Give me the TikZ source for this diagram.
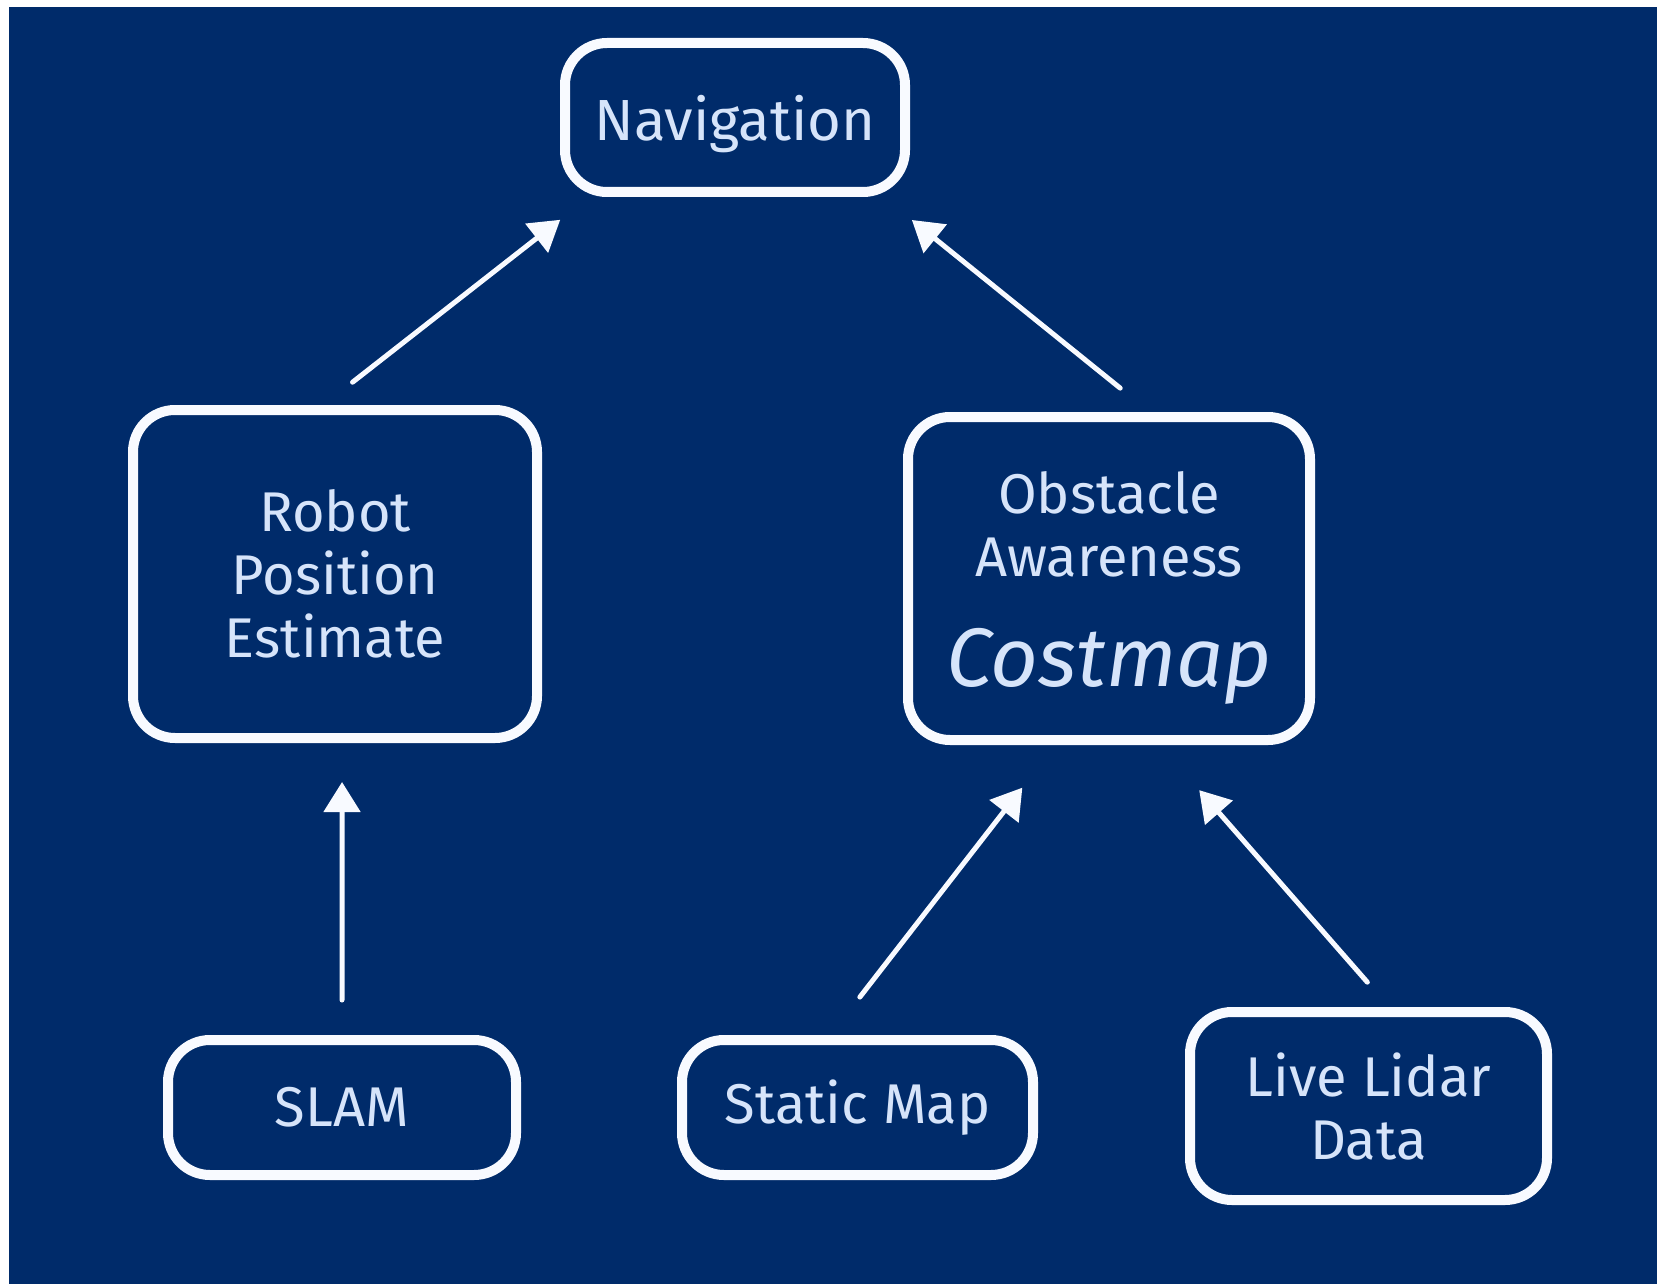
\documentclass[tikz,border=0pt]{standalone}
\usepackage{fontspec}
\setmainfont{Fira Sans}
\usetikzlibrary{arrows.meta,calc}
\definecolor{bg}{RGB}{0,43,106}
\definecolor{txt}{RGB}{214,228,250}
\definecolor{edge}{RGB}{248,250,255}
\begin{document}
\begin{tikzpicture}[x=1pt,y=-1pt,
  box/.style={draw=edge, line width=10pt, rounded corners=42pt, text=txt, align=center, inner sep=0pt, font=\fontsize{56}{63}\selectfont},
  arr/.style={draw=edge, line width=5pt, line cap=round, -{Triangle[length=30pt,width=36pt]}}]
\fill[white] (0,0) rectangle (1657,1284);
\fill[bg] (9,7) rectangle (1657,1284);
\useasboundingbox (0,0) rectangle (1657,1284);

\node[box, minimum width=340pt, minimum height=149pt, text depth=0pt, font=\fontsize{58}{63}\selectfont] (nav) at (735,117.5) {Navigation};
\node[box, minimum width=404pt, minimum height=328pt] (robot) at (335,574) {Robot\\Position\\Estimate};
\node[box, minimum width=402pt, minimum height=323pt, text depth=0pt] (obst) at (1109,578.5) {Obstacle\\Awareness\\[47pt]{\fontsize{83}{63}\selectfont\itshape Costmap}};
\node[box, minimum width=348pt, minimum height=135pt] (slam) at (342,1107.5) {SLAM};
\node[box, minimum width=351pt, minimum height=135pt] (static) at (857.5,1107.5) {Static Map};
\node[box, minimum width=357pt, minimum height=188pt] (lidar) at (1368.5,1106) {Live Lidar\\Data};

\draw[arr, shorten <=37pt, shorten >=37pt] ($(robot.north west)!0.472!(robot.north east)$) -- ($(nav.south west)!0.084!(nav.south east)$);
\draw[arr, shorten <=38pt, shorten >=36.6pt] ($(obst.north west)!0.599!(obst.north east)$) -- ($(nav.south west)!0.924!(nav.south east)$);
\draw[arr, shorten <=35pt, shorten >=39pt] (slam.north) -- ($(robot.south west)!0.517!(robot.south east)$);
\draw[arr, shorten <=48pt, shorten >=54pt] ($(static.north west)!0.425!(static.north east)$) -- ($(obst.south west)!0.370!(obst.south east)$);
\draw[arr, shorten <=33pt, shorten >=60pt] ($(lidar.north west)!0.556!(lidar.north east)$) -- ($(obst.south west)!0.623!(obst.south east)$);
\end{tikzpicture}
\end{document}
